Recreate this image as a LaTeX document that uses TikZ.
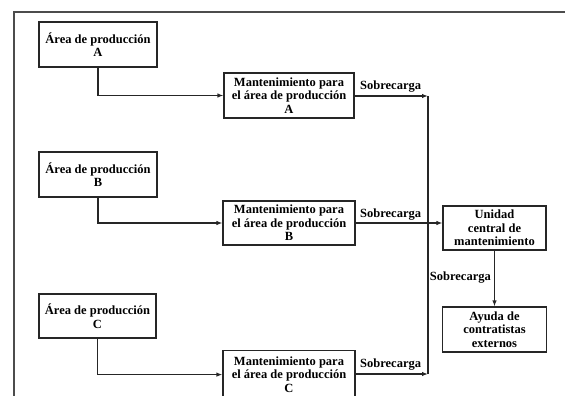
\documentclass[tikz,border=0pt]{standalone}
\usepackage{fontspec}
\setmainfont{Liberation Serif}
\usetikzlibrary{arrows.meta}
\begin{document}
\begin{tikzpicture}[x=1pt,y=-1pt,
  ink/.style={draw=black!85,line width=1.2pt},
  box/.style={ink,rectangle,align=center,inner sep=1pt,
    font=\fontsize{12.5}{13.5}\selectfont\bfseries},
  flow/.style={ink,-{Latex[length=6pt,width=4.5pt]}},
  lbl/.style={font=\fontsize{12.5}{13.5}\selectfont\bfseries,inner sep=1pt}]
\useasboundingbox (0,0) rectangle (565,396);
\clip (0,0) rectangle (565,396);
% outer frame (cut by the page on the right and bottom)
\draw[draw=black!70,line width=1.6pt] (14,400) -- (14,12) -- (570,12);

% production areas
\node[box,minimum width=118,minimum height=45] (areaA) at (98,44.5) {Área de producción\\A};
\node[box,minimum width=118,minimum height=45] (areaB) at (98,174.5) {Área de producción\\B};
\node[box,minimum width=117,minimum height=44] (areaC) at (97.5,316) {Área de producción\\C};

% maintenance units per area
\node[box,minimum width=130,minimum height=45] (mantA) at (289,95.5) {Mantenimiento para\\el área de producción\\A};
\node[box,minimum width=132,minimum height=44] (mantB) at (289,223) {Mantenimiento para\\el área de producción\\B};
\node[box,minimum width=132,minimum height=48,anchor=north] (mantC) at (289,350) {Mantenimiento para\\el área de producción\\C};

% central unit and external help
\node[box,minimum width=103,minimum height=44] (unidad) at (494.5,228) {Unidad\\central de\\mantenimiento};
\node[box,minimum width=104,minimum height=45] (ayuda) at (494.5,329.5) {Ayuda de\\contratistas\\externos};

% overload bus
\coordinate (busTop) at (428,96);
\coordinate (busBot) at (428,374);

% connectors
\draw[flow] (areaA.south) |- (mantA.west);
\draw[flow] (areaB.south) |- (mantB.west);
\draw[flow] (areaC.south) |- (mantC.west);

\draw[flow] (mantA.east |- busTop) -- (busTop);
\draw[flow] (mantC.east |- busBot) -- (busBot);
\draw[ink] (busTop) -- (busBot);
\draw[flow] (mantB.east) -- (mantB.east -| unidad.west);
\draw[flow] (unidad.south) -- (ayuda.north);

% overload labels
\node[lbl,anchor=south west] (sA) at (359,93) {Sobrecarga};
\node[lbl,anchor=south west] (sB) at (359,221) {Sobrecarga};
\node[lbl,anchor=south west] (sC) at (359,371) {Sobrecarga};
\node[lbl,anchor=east] (sD) at (492,278) {Sobrecarga};
\end{tikzpicture}
\end{document}
